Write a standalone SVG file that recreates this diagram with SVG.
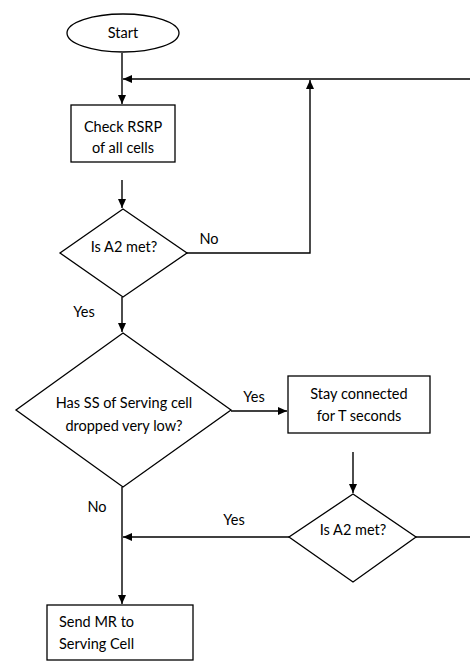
<svg xmlns="http://www.w3.org/2000/svg" width="470" height="662" viewBox="0 0 470 662">
<style>
.s{fill:#fff;stroke:#000;stroke-width:1.3}
.c{fill:none;stroke:#000;stroke-width:1.4}
.t{font-family:Lato,"Liberation Sans",sans-serif;font-size:14.5px;fill:#000}
.m{text-anchor:middle}
</style>
<defs>
<marker id="a" markerWidth="10" markerHeight="8" refX="9" refY="4" orient="auto" markerUnits="userSpaceOnUse">
<path d="M0,0 L9,4 L0,8 Z" fill="#000"/>
</marker>
</defs>
<rect width="470" height="662" fill="#fff"/>
<g id="connectors">
<path class="c" d="M122,53 V104" marker-end="url(#a)"/>
<path class="c" d="M470,79 H123" marker-end="url(#a)"/>
<path class="c" d="M122,180 V208" marker-end="url(#a)"/>
<path class="c" d="M186,253 H310 V80" marker-end="url(#a)"/>
<path class="c" d="M122,297 V332" marker-end="url(#a)"/>
<path class="c" d="M231,411 H287" marker-end="url(#a)"/>
<path class="c" d="M353,452 V493" marker-end="url(#a)"/>
<path class="c" d="M289,537 H123" marker-end="url(#a)"/>
<path class="c" d="M416,537 H470"/>
<path class="c" d="M122,487 V604" marker-end="url(#a)"/>
<text class="t m" x="209" y="244">No</text>
<text class="t m" x="84" y="317">Yes</text>
<text class="t m" x="254" y="402">Yes</text>
<text class="t m" x="97" y="512">No</text>
<text class="t m" x="234" y="525">Yes</text>
</g>
<g id="start">
<ellipse class="s" cx="123" cy="33" rx="56" ry="19"/>
<text class="t m" x="123" y="38">Start</text>
</g>
<g id="check">
<rect class="s" x="71" y="105" width="104" height="57"/>
<text class="t m" x="123" y="132">Check RSRP</text>
<text class="t m" x="123" y="153">of all cells</text>
</g>
<g id="a2first">
<polygon class="s" points="123,209 187,253 123,297 60,253"/>
<text class="t m" x="124" y="252">Is A2 met?</text>
</g>
<g id="ss">
<polygon class="s" points="123,333 231,410 123,487 16,410"/>
<text class="t m" x="124" y="408">Has SS of Serving cell</text>
<text class="t m" x="124" y="431">dropped very low?</text>
</g>
<g id="stay">
<rect class="s" x="288" y="376" width="142" height="57"/>
<text class="t m" x="359" y="399">Stay connected</text>
<text class="t m" x="359" y="421">for T seconds</text>
</g>
<g id="a2second">
<polygon class="s" points="353,494 416,537 353,582 289,537"/>
<text class="t m" x="353" y="535">Is A2 met?</text>
</g>
<g id="send">
<rect class="s" x="47" y="605" width="146" height="55"/>
<text class="t" x="59" y="627">Send MR to</text>
<text class="t" x="59" y="649">Serving Cell</text>
</g>
</svg>
